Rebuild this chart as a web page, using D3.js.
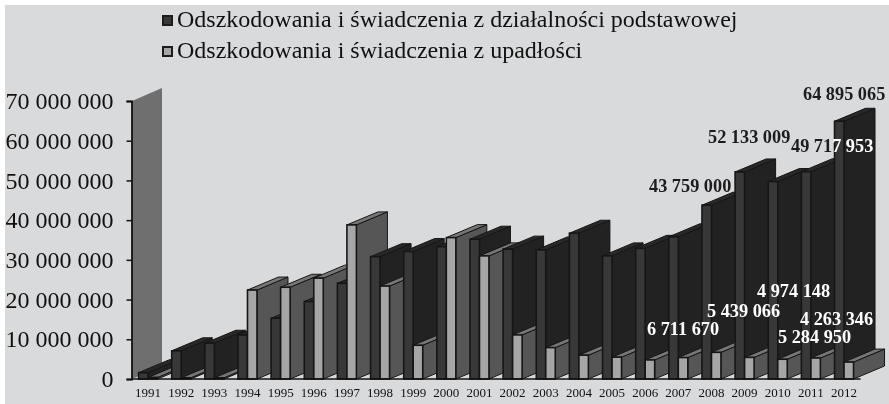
<!DOCTYPE html>
<html>
<head>
<meta charset="utf-8">
<script src="https://cdn.jsdelivr.net/npm/d3@7"></script>
<style>
  html, body { margin: 0; padding: 0; background: #fff; }
  svg { display: block; filter: blur(0.35px); }
  text { font-family: "Liberation Serif", serif; }
</style>
</head>
<body>
<svg id="chart" width="889" height="404"></svg>
<script>
const years = [1991, 1992, 1993, 1994, 1995, 1996, 1997, 1998, 1999, 2000, 2001,
    2002, 2003, 2004, 2005, 2006, 2007, 2008, 2009, 2010, 2011, 2012];

const basicValues = [1600000, 7100000, 9000000, 11100000, 15300000, 19500000, 24100000, 30800000,
    32100000, 33300000, 35200000, 32700000, 32500000, 36700000, 31000000, 32900000, 35800000,
    43759000, 52133009, 49717953, 52200000, 64895065];

const bankruptcyValues = [400000, 300000, 300000, 22400000, 23100000, 25400000, 38800000, 23400000,
    8500000, 35600000, 31000000, 11100000, 7900000, 6000000, 5500000, 4800000, 5400000,
    6711670, 5439066, 4974148, 5284950, 4263346];

const legendLabels = [
    "Odszkodowania i świadczenia z działalności podstawowej",
    "Odszkodowania i świadczenia z upadłości"
];

const yTicks = [0, 10000000, 20000000, 30000000, 40000000, 50000000, 60000000, 70000000];

// the tall grey panel standing against the value axis
const wallValue = 70000000;

const svg = d3.select("#chart");

// scanned page: white sliver on top and left, grey everywhere else
svg.append("rect").attr("x", 5).attr("y", 5).attr("width", 884).attr("height", 399).attr("fill", "#d9dadc");

const x = d3.scaleBand().domain(years).range([131.5, 860.6]);
const y = d3.scaleLinear().domain([0, 70000000]).range([379, 101]);

const barWidth = 9.5;
const depthX = 31;
const depthY = 13;

const darkColors = { front: "#383838", side: "#222222", top: "#282828" };
const lightColors = { front: "#a6a6a6", side: "#565656", top: "#767676" };

// one 3D bar: side and top faces first, the front face over them
function drawBar(g, left, value, colors) {
    const right = left + barWidth;
    const top = y(value);
    const base = y(0);
    const edge = "#161616";
    g.append("polygon")
        .attr("points", [[right, top], [right + depthX, top - depthY], [right + depthX, base - depthY], [right, base]].join(" "))
        .attr("fill", colors.side).attr("stroke", edge).attr("stroke-width", 1);
    g.append("polygon")
        .attr("points", [[left, top], [left + depthX, top - depthY], [right + depthX, top - depthY], [right, top]].join(" "))
        .attr("fill", colors.top).attr("stroke", edge).attr("stroke-width", 1);
    g.append("rect")
        .attr("x", left).attr("y", top).attr("width", barWidth).attr("height", base - top)
        .attr("fill", colors.front).attr("stroke", edge).attr("stroke-width", 1.6);
}

// wall
svg.append("polygon")
    .attr("points", [[132, y(wallValue)], [132 + depthX - 1, y(wallValue) - depthY], [132 + depthX - 1, y(0) - depthY], [132, y(0)]].join(" "))
    .attr("fill", "#6f6f70");

// bars, painted left to right so each year covers the side of the previous one
const bars = svg.append("g");
years.forEach((year, i) => {
    const center = x(year) + x.bandwidth() / 2;
    drawBar(bars, center - barWidth, basicValues[i], darkColors);
    drawBar(bars, center, bankruptcyValues[i], lightColors);
});

// axes
const yAxis = d3.axisLeft(y)
    .tickValues(yTicks)
    .tickSize(5)
    .tickPadding(13)
    .tickFormat(d => d3.format(",")(d).replace(/,/g, " "));
const yG = svg.append("g").attr("transform", "translate(131.5,0)").call(yAxis);
yG.selectAll("text").attr("font-size", 24).attr("fill", "#111").style("font-family", '"Liberation Serif", serif');
yG.selectAll("line").attr("x2", -5).attr("stroke", "#111").attr("stroke-width", 1.5);
yG.select(".domain").attr("stroke", "#111").attr("stroke-width", 1.8);

svg.append("line").attr("x1", x.range()[0]).attr("x2", x.range()[1]).attr("y1", y(0)).attr("y2", y(0))
    .attr("stroke", "#111").attr("stroke-width", 1.5);

const xAxis = d3.axisBottom(x).tickSize(0).tickPadding(9);
const xG = svg.append("g").attr("transform", `translate(0,${y(0)})`).call(xAxis);
xG.select(".domain").remove();
xG.selectAll("text").attr("font-size", 13).attr("fill", "#111").style("font-family", '"Liberation Serif", serif');

// legend
const legendFills = [darkColors.front, lightColors.front];
const legendBaselines = [27, 58];
legendLabels.forEach((label, i) => {
    svg.append("rect")
        .attr("x", 163).attr("y", legendBaselines[i] - 11).attr("width", 9).attr("height", 9)
        .attr("fill", legendFills[i]).attr("stroke", "#1c1c1c").attr("stroke-width", 2);
    svg.append("text")
        .attr("x", 177).attr("y", legendBaselines[i])
        .attr("font-size", 24).attr("fill", "#111")
        .text(label);
});

// value labels, placed by hand as in the picture
const labelTexts = ["64 895 065", "52 133 009", "43 759 000", "6 711 670", "5 439 066", "4 974 148", "4 263 346", "5 284 950"];
const labelSpots = [[803, 100], [708, 143], [649, 192], [647, 335], [707, 317], [757, 297], [800, 325], [778, 343]];
const labelColors = ["#1d1d1d", "#1d1d1d", "#1d1d1d", "#fff", "#fff", "#fff", "#fff", "#fff"];

const labels = svg.append("g").attr("font-size", 18.3).attr("font-weight", "bold");
labelTexts.forEach((t, i) => {
    labels.append("text").attr("x", labelSpots[i][0]).attr("y", labelSpots[i][1]).attr("fill", labelColors[i]).text(t);
});

// this one sits half on the background, half on the 2012 bar
const splitLabel = labels.append("text").attr("x", 791).attr("y", 152);
splitLabel.append("tspan").attr("fill", "#1d1d1d").text("49 71");
splitLabel.append("tspan").attr("fill", "#fff").text("7 953");
</script>
</body>
</html>
